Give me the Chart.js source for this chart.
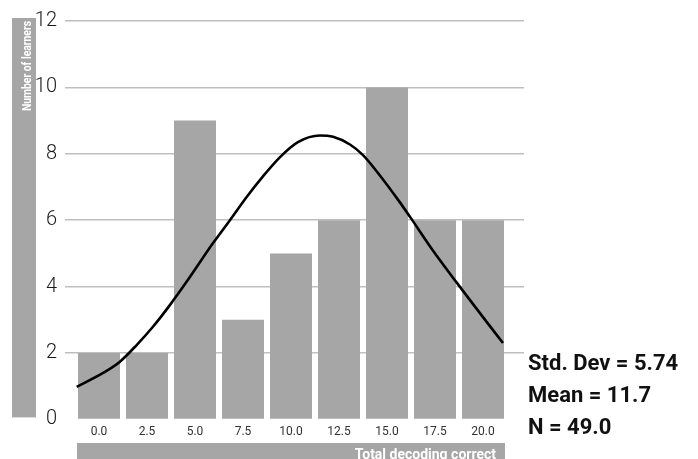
<!DOCTYPE html>
<html>
<head>
<meta charset="utf-8">
<script src="https://cdn.jsdelivr.net/npm/chart.js@4/dist/chart.umd.min.js"></script>
<style>
  html, body { margin: 0; padding: 0; background: #fff; }
  #wrap { width: 698px; height: 459px; position: relative; }
</style>
</head>
<body>
<div id="wrap"><canvas id="c" width="698" height="459"></canvas></div>
<script>
// ---- data ----
const categories = [0, 2.5, 5, 7.5, 10, 12.5, 15, 17.5, 20];
const learners   = [2, 2, 9, 3, 5, 6, 10, 6, 6];

// fitted normal curve
const curveX = [-1.16, 0.21, 1.09, 1.96, 2.81, 3.70, 4.57, 5.94, 6.82, 7.69, 8.54, 9.43, 10.36, 11.51, 12.19, 13.07, 13.75, 14.64, 15.57, 16.20, 17.40, 18.63, 19.84, 21.04];
const curveY = [0.98, 1.40, 1.74, 2.24, 2.79, 3.45, 4.15, 5.31, 6.00, 6.70, 7.32, 7.90, 8.35, 8.55, 8.51, 8.28, 7.96, 7.34, 6.62, 6.10, 5.08, 4.12, 3.20, 2.30];

const yTicks = [0, 2, 4, 6, 8, 10, 12];
const statsLines = ['Std. Dev = 5.74', 'Mean = 11.7', 'N = 49.0'];
const yTitle = 'Number of learners';
const xTitle = 'Total decoding correct';

const GREY = '#a6a6a6';

const barData = categories.map((c, i) => ({ x: c, y: learners[i] }));
const curveData = curveX.map((x, i) => ({ x: x, y: curveY[i] }));

const decor = {
  id: 'decor',
  afterDraw(chart) {
    const ctx = chart.ctx;
    const ys = chart.scales.y, xs = chart.scales.x;
    ctx.save();
    // y-axis title box
    const boxTop = ys.getPixelForValue(12) - 3;
    const boxBot = ys.getPixelForValue(0) - 2;
    ctx.fillStyle = GREY;
    ctx.fillRect(12, boxTop, 24, boxBot - boxTop);
    ctx.save();
    ctx.translate(30.5, boxTop + 3);
    ctx.rotate(-Math.PI / 2);
    ctx.fillStyle = '#ffffff';
    ctx.font = 'bold 13px Roboto';
    ctx.textAlign = 'right';
    ctx.textBaseline = 'alphabetic';
    ctx.fillText(yTitle, 0, 0, 90);
    ctx.restore();

    // x-axis title box
    const left = xs.getPixelForValue(categories[0]) - 22;
    const right = xs.getPixelForValue(categories[categories.length - 1]) + 22;
    ctx.fillStyle = GREY;
    ctx.fillRect(left, 443, right - left, 20);
    ctx.fillStyle = '#ffffff';
    ctx.font = 'bold 14px Roboto';
    ctx.textAlign = 'right';
    ctx.textBaseline = 'alphabetic';
    ctx.fillText(xTitle, right - 9, 459, 160);

    // stats text
    ctx.fillStyle = '#111111';
    ctx.font = 'bold 22px Roboto';
    ctx.textAlign = 'left';
    ctx.textBaseline = 'middle';
    statsLines.forEach((s, i) => ctx.fillText(s, 528, 364 + i * 32));
    ctx.restore();
  }
};

new Chart(document.getElementById('c'), {
  data: {
    datasets: [
      {
        type: 'line',
        data: curveData,
        borderColor: '#000000',
        borderWidth: 2.6,
        pointRadius: 0,
        cubicInterpolationMode: 'monotone',
        fill: false,
        order: 0
      },
      {
        type: 'bar',
        data: barData,
        backgroundColor: GREY,
        borderWidth: 0,
        barPercentage: 0.875,
        categoryPercentage: 1.0,
        order: 1
      }
    ]
  },
  options: {
    responsive: false,
    animation: false,
    devicePixelRatio: 1,
    layout: { padding: { left: 0, top: 21, right: 174, bottom: 0 } },
    plugins: { legend: { display: false }, tooltip: { enabled: false } },
    scales: {
      x: {
        type: 'linear',
        offset: false,
        min: -1.771,
        max: 22.135,
        afterBuildTicks: (scale) => { scale.ticks = categories.map(v => ({ value: v })); },
        afterFit: (scale) => { scale.height = 39.6; },
        grid: { display: false, drawTicks: false, offset: false },
        border: { display: false },
        ticks: {
          autoSkip: false,
          maxRotation: 0,
          padding: 5,
          color: '#333333',
          font: { family: 'Roboto', size: 12 },
          callback: (v) => Number(v).toFixed(1)
        }
      },
      y: {
        type: 'linear',
        min: 0,
        max: 12,
        afterBuildTicks: (scale) => { scale.ticks = yTicks.map(v => ({ value: v })); },
        afterFit: (scale) => { scale.width = 65; },
        grid: {
          drawTicks: false,
          lineWidth: 1.5,
          color: (c) => (c.tick && c.tick.value === 0) ? 'rgba(0,0,0,0)' : '#bfbfbf'
        },
        border: { display: false },
        ticks: {
          padding: 8,
          color: '#1a1a1a',
          font: { family: 'Roboto', size: 20, weight: '300' }
        }
      }
    }
  },
  plugins: [decor]
});
</script>
</body>
</html>
